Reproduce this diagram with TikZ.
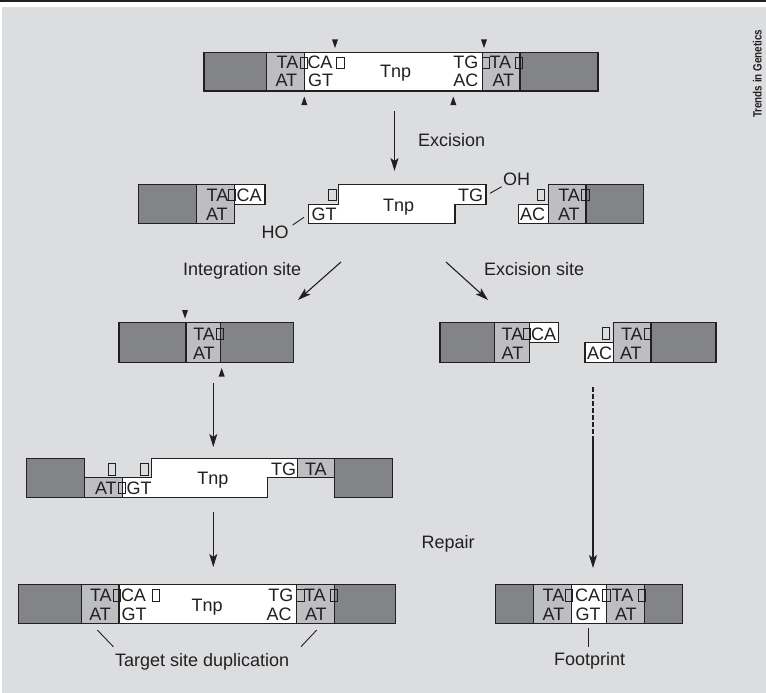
\documentclass[tikz,border=0pt]{standalone}
\usepackage{fontspec}
\usepackage{graphicx}
\setmainfont{Liberation Sans}
\usetikzlibrary{arrows.meta}
\definecolor{bg}{HTML}{DCDDDF}
\definecolor{dk}{HTML}{838488}
\definecolor{lt}{HTML}{BDBEC2}
\definecolor{ln}{HTML}{231F20}
\newcommand{\smsq}[2]{\draw[sqb] (#1,#2) rectangle ++(7.5,-11.5);}
\newcommand{\tdown}[2]{\fill[ln] (#1,#2) -- ++(-3,-8.5) -- ++(6,0) -- cycle;}
\newcommand{\tup}[2]{\fill[ln] (#1,#2) -- ++(-3,8.5) -- ++(6,0) -- cycle;}
\begin{document}
\begin{tikzpicture}[x=1pt,y=-1pt,line join=miter,
 dkb/.style={fill=dk,draw=ln,line width=1.1pt},
 ltb/.style={fill=lt,draw=ln,line width=1.1pt},
 wtb/.style={fill=white,draw=ln,line width=1.1pt},
 sqb/.style={draw=ln,line width=0.9pt},
 t/.style={anchor=base west,inner sep=0pt,outer sep=0pt,text=ln,font=\fontsize{18}{20}\selectfont},
 arr/.style={draw=ln,line width=1.1pt,-{Stealth[length=13pt,width=8pt,inset=3pt]}},
 tick/.style={draw=ln,line width=0.9pt}]
\useasboundingbox (0,0) rectangle (766,693);
\fill[white] (0,0) rectangle (766,693);
\fill[ln] (0,0) rectangle (766,1.8);
\fill[bg] (1.5,7) rectangle (766,693);

% ---------- Row 1 ----------
\draw[dkb] (204,52.3) rectangle (266.7,91);
\draw[ltb] (266.7,52.3) rectangle (304.3,91);
\draw[wtb] (304.3,52.3) rectangle (482.3,91);
\draw[ltb] (482.3,52.3) rectangle (520,91);
\draw[dkb] (520,52.3) rectangle (598,91);
\node[t] (a1) at (276.7,69) {TA};
\node[t] (a2) at (307.5,69) {CA};
\node[t] (a3) at (275.5,86.7) {AT};
\node[t] (a4) at (308,86.7) {GT};
\node[t] (a5) at (380,77.3) {Tnp};
\node[t] (a6) at (453.3,69) {TG};
\node[t] (a7) at (489.5,69) {TA};
\node[t] (a8) at (453.3,86.7) {AC};
\node[t] (a9) at (492.5,86.7) {AT};
\smsq{300}{68.5}\smsq{336.7}{68.5}\smsq{482}{68.5}\smsq{515}{68.5}
\tdown{335}{48}\tdown{484}{48}\tup{304.3}{96.5}\tup{453.3}{96.5}

% Excision arrow
\coordinate (e1) at (394.5,111);
\coordinate (e2) at (394.5,171);
\draw[arr] (e1) -- (e2);
\node[t] (exc) at (418,146) {Excision};

% ---------- Row 2 ----------
\draw[dkb] (138.3,184.3) rectangle (196.7,223.3);
\draw[ltb] (196.7,184.3) rectangle (234.3,223.3);
\draw[wtb] (234.3,184.3) rectangle (265,204.3);
\node[t] (b1) at (206.7,201) {TA};
\node[t] (b2) at (236.7,201) {CA};
\node[t] (b3) at (206,220) {AT};
\smsq{228.3}{200.5}
\draw[wtb] (338.3,184.3) -- (486,184.3) -- (486,204.3) -- (455,204.3) -- (455,223.3)
  -- (308.3,223.3) -- (308.3,204.3) -- (338.3,204.3) -- cycle;
\smsq{328.5}{200.5}
\node[t] (b4) at (311.7,220) {GT};
\node[t] (b5) at (383,211) {Tnp};
\node[t] (b6) at (458,201) {TG};
\node[t] (oh) at (503,185) {OH};
\node[t] (ho) at (261.7,238.3) {HO};
\draw[tick] (490,193.3) -- (501.7,186.7);
\draw[tick] (292.7,225) -- (304,217.3);
\smsq{537}{200.5}
\draw[wtb] (518.3,204.3) rectangle (548.3,223.3);
\draw[ltb] (548.3,184.3) rectangle (586,223.3);
\draw[dkb] (586,184.3) rectangle (643.3,223.3);
\node[t] (b7) at (520,220) {AC};
\node[t] (b8) at (558.3,201) {TA};
\node[t] (b9) at (558,220) {AT};
\smsq{581.7}{200.5}

% diverging arrows
\coordinate (i1) at (341,262);
\coordinate (i2) at (298,300);
\coordinate (x1) at (446,262);
\coordinate (x2) at (488,300);
\draw[arr] (i1) -- (i2);
\draw[arr] (x1) -- (x2);
\node[t] (ints) at (183,275) {Integration site};
\node[t] (excs) at (484,275) {Excision site};

% ---------- Row 3 ----------
\draw[dkb] (119,322.7) rectangle (186,362.7);
\draw[ltb] (186,322.7) rectangle (220.7,362.7);
\draw[dkb] (220.7,322.7) rectangle (293.3,362.7);
\node[t] (c1) at (193.3,340) {TA};
\node[t] (c2) at (193,359.3) {AT};
\smsq{216}{339.5}
\tdown{185}{318.5}\tup{221.7}{368}

\draw[dkb] (440,322.7) rectangle (494.3,362.7);
\draw[ltb] (494.3,322.7) rectangle (529.3,362.7);
\draw[wtb] (529.3,322.7) rectangle (558.3,342.7);
\node[t] (c3) at (501.7,340) {TA};
\node[t] (c4) at (531,340) {CA};
\node[t] (c5) at (501.7,359.3) {AT};
\smsq{523.3}{339.5}
\smsq{602}{339}
\draw[wtb] (585,342.7) rectangle (613.3,362.7);
\draw[ltb] (613.3,322.7) rectangle (651,362.7);
\draw[dkb] (651,322.7) rectangle (716,362.7);
\node[t] (c6) at (587,359.3) {AC};
\node[t] (c7) at (621,340) {TA};
\node[t] (c8) at (620,359.3) {AT};
\smsq{644}{339.5}

% arrows row 3
\coordinate (l1) at (213.3,383);
\coordinate (l2) at (213.3,447);
\draw[arr] (l1) -- (l2);
\coordinate (r1) at (593,387);
\coordinate (r2) at (593,437);
\coordinate (r3) at (593,568);
\draw[draw=ln,line width=1.1pt,dash pattern=on 5pt off 2pt] (r1) -- (r2);
\draw[arr] (r2) -- (r3);
\node[t] (rep) at (421.7,548) {Repair};

% ---------- Row 4 ----------
\draw[dkb] (26.7,458.3) rectangle (84.3,497.3);
\draw[ltb] (84.3,477.7) rectangle (122.7,497.3);
\draw[wtb] (122.7,497.3) -- (122.7,477.7) -- (151.7,477.7) -- (151.7,458.3) -- (297.7,458.3)
  -- (297.7,477.7) -- (267.7,477.7) -- (267.7,497.3) -- cycle;
\draw[ltb] (297.7,458.3) rectangle (334.3,477.7);
\draw[dkb] (334.3,458.3) rectangle (392.3,497.3);
\smsq{108}{475}\smsq{140.5}{475}
\node[t] (d1) at (95,494) {AT};
\smsq{118.3}{493.5}
\node[t] (d2) at (126.7,494) {GT};
\node[t] (d3) at (197.3,484) {Tnp};
\node[t] (d4) at (271,475) {TG};
\node[t] (d5) at (305,475) {TA};

\coordinate (m1) at (213.3,512);
\coordinate (m2) at (213.3,567);
\draw[arr] (m1) -- (m2);

% ---------- Row 5 left ----------
\draw[dkb] (18.3,584.3) rectangle (81.7,623.3);
\draw[ltb] (81.7,584.3) rectangle (119,623.3);
\draw[wtb] (119,584.3) rectangle (296.7,623.3);
\draw[ltb] (296.7,584.3) rectangle (334.3,623.3);
\draw[dkb] (334.3,584.3) rectangle (395.7,623.3);
\node[t] (f1) at (90,601.7) {TA};
\node[t] (f2) at (121,601.7) {CA};
\node[t] (f3) at (89.3,620) {AT};
\node[t] (f4) at (121.7,620) {GT};
\node[t] (f5) at (191.7,611) {Tnp};
\node[t] (f6) at (268.3,601.7) {TG};
\node[t] (f7) at (304,601.7) {TA};
\node[t] (f8) at (266.7,620) {AC};
\node[t] (f9) at (305,620) {AT};
\smsq{113.3}{601.2}\smsq{152}{601.2}\smsq{296.7}{601.2}\smsq{330}{601.2}
\draw[tick] (97.3,630) -- (113.3,646.7);
\draw[tick] (316.7,630) -- (301,646.7);
\node[t] (tsd) at (115,666.7) {Target site duplication};

% ---------- Row 5 right ----------
\draw[dkb] (495.7,584.3) rectangle (533.3,623.3);
\draw[ltb] (533.3,584.3) rectangle (571.7,623.3);
\draw[wtb] (571.7,584.3) rectangle (606.7,623.3);
\draw[ltb] (606.7,584.3) rectangle (644.3,623.3);
\draw[dkb] (644.3,584.3) rectangle (682.3,623.3);
\node[t] (g1) at (542.7,601.7) {TA};
\node[t] (g2) at (575,601.7) {CA};
\node[t] (g3) at (611.7,601.7) {TA};
\node[t] (g4) at (542.7,620) {AT};
\node[t] (g5) at (575.7,620) {GT};
\node[t] (g6) at (615,620) {AT};
\smsq{565}{601.2}\smsq{602.7}{601.2}\smsq{638.3}{601.2}
\draw[tick] (588.3,628.3) -- (588.3,647.3);
\node[t] (fp) at (554,665.7) {Footprint};

% side label
\node[anchor=base west,inner sep=0pt,rotate=90,text=ln,font=\fontsize{12}{12}\selectfont\bfseries] (tig) at (761.7,118) {\scalebox{0.82}[1]{Trends in Genetics}};
\end{tikzpicture}
\end{document}
